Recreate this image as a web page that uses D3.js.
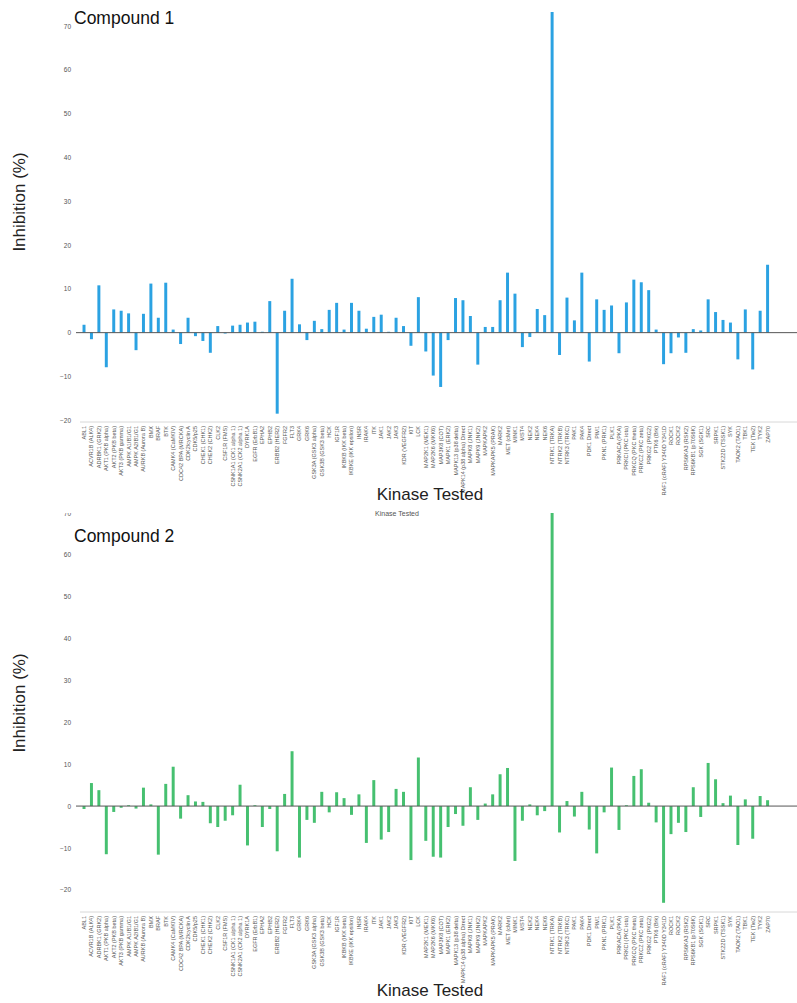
<!DOCTYPE html>
<html><head><meta charset="utf-8">
<script src="https://cdn.jsdelivr.net/npm/d3@7"></script>
<style>body{margin:0;background:#fff;} svg{display:block;font-family:"Liberation Sans",Arial,sans-serif;}</style>
</head><body>
<svg id="chart" width="797" height="1003"></svg>
<script>
const categories = ["ABL1","ACVR1B (ALK4)","ADRBK1 (GRK2)","AKT1 (PKB alpha)","AKT2 (PKB beta)","AKT3 (PKB gamma)","AMPK A1/B1/G1","AMPK A2/B1/G1","AURKB (Aurora B)","BMX","BRAF","BTK","CAMK4 (CaMKIV)","CDC42 BPA (MRCKA)","CDK2/cyclin A","CDK5/p25","CHEK1 (CHK1)","CHEK2 (CHK2)","CLK2","CSF1R (FMS)","CSNK1A1 (CK1 alpha 1)","CSNK2A1 (CK2 alpha 1)","DYRK1A","EGFR (ErbB1)","EPHA2","EPHB2","ERBB2 (HER2)","FGFR2","FLT3","GRK4","GRK6","GSK3A (GSK3 alpha)","GSK3B (GSK3 beta)","HCK","IGF1R","IKBKB (IKK beta)","IKBKE (IKK epsilon)","INSR","IRAK4","ITK","JAK1","JAK2","JAK3","KDR (VEGFR2)","KIT","LCK","MAP2K1 (MEK1)","MAP2K6 (MKK6)","MAP3K8 (COT)","MAPK1 (ERK2)","MAPK13 (p38 delta)","MAPK14 (p38 alpha) Direct","MAPK8 (JNK1)","MAPK9 (JNK2)","MAPKAPK2","MAPKAPK5 (PRAK)","MARK2","MET (cMet)","MINK1","MST4","NEK2","NEK4","NEK6","NTRK1 (TRKA)","NTRK2 (TRKB)","NTRK3 (TRKC)","PAK1","PAK4","PDK1 Direct","PIM1","PKN1 (PRK1)","PLK1","PRKACA (PKA)","PRKCI (PKC iota)","PRKCQ (PKC theta)","PRKCZ (PKC zeta)","PRKG2 (PKG2)","PTK6 (Brk)","RAF1 (cRAF) Y340D Y341D","ROCK1","ROCK2","RPS6KA3 (RSK2)","RPS6KB1 (p70S6K)","SGK (SGK1)","SRC","SRPK1","STK22D (TSSK1)","SYK","TAOK2 (TAO1)","TBK1","TEK (Tie2)","TYK2","ZAP70"];

const compound1 = [1.8,-1.5,10.8,-7.9,5.3,5.0,4.4,-4.0,4.3,11.2,3.4,11.4,0.7,-2.6,3.4,-0.8,-1.9,-4.6,1.5,-0.2,1.6,1.8,2.3,2.5,0.2,7.2,-18.5,5.0,12.3,1.9,-1.7,2.7,0.8,5.2,6.8,0.7,6.8,5.0,0.9,3.6,4.1,0.2,3.4,1.5,-3.0,8.1,-4.3,-9.8,-12.4,-1.7,7.9,7.4,3.8,-7.3,1.3,1.3,7.4,13.7,8.9,-3.3,-1.0,5.4,4.0,73.2,-5.1,8.0,2.8,13.7,-6.6,7.6,5.2,6.2,-4.7,6.9,12.1,11.5,9.7,0.7,-7.2,-4.7,-1.1,-4.6,0.8,0.5,7.6,4.7,2.9,2.3,-6.1,5.3,-8.4,5.0,15.5];

const compound2 = [-0.7,5.5,3.8,-11.5,-1.4,-0.4,0.2,-0.6,4.4,0.4,-11.6,5.3,9.4,-3.0,2.6,1.1,1.0,-4.1,-5.0,-3.5,-2.2,5.1,-9.4,0.2,-5.0,-0.7,-10.8,2.9,13.1,-12.3,-3.3,-4.0,3.4,-1.5,3.3,1.9,-2.1,2.8,-8.8,6.2,-8.0,-6.2,4.1,3.4,-12.9,11.6,-8.3,-12.1,-12.3,-5.0,-1.9,-4.7,4.5,-3.3,0.6,2.8,7.6,9.1,-13.1,-3.5,0.4,-2.2,-1.2,76.0,-6.3,1.2,-2.5,3.4,-5.6,-11.3,-1.5,9.2,-5.7,0.2,7.2,8.8,0.8,-3.9,-23.1,-6.7,-4.0,-6.2,4.5,-2.6,10.3,6.4,0.7,2.5,-9.3,1.6,-7.8,2.4,1.4];

const yTickValues = [70,60,50,40,30,20,10,0,-10,-20];
const titles = ["Compound 1","Compound 2"];
const xAxisTitle = "Kinase Tested";
const yAxisTitle = "Inhibition (%)";

const svg = d3.select("#chart");

const x = d3.scaleBand().domain(categories).range([80.3, 771.3]).paddingInner(0.6).paddingOuter(0.3);

function drawChart(cfg) {
  const { values, color, y, axisY, title, titleY, yTitleY, xTitleY, clipTop } = cfg;
  const root = svg.append("g");
  if (clipTop !== undefined) {
    const id = "clip" + Math.round(clipTop);
    svg.append("defs").append("clipPath").attr("id", id)
      .append("rect").attr("x", 0).attr("y", clipTop).attr("width", 797).attr("height", 1003 - clipTop);
    root.attr("clip-path", `url(#${id})`);
  }
  const ya = root.append("g").attr("transform", "translate(71,0)")
    .call(d3.axisLeft(y).tickValues(yTickValues).tickSize(0).tickPadding(0).tickFormat(d3.format("d")));
  ya.select(".domain").remove();
  ya.selectAll("text").attr("font-size", 6.5).attr("fill", "#555").attr("font-family", "Liberation Sans, Arial, sans-serif");

  root.append("line").attr("x1", 80).attr("x2", 797).attr("y1", axisY).attr("y2", axisY)
    .attr("stroke", "#d8d8d8").attr("stroke-width", 1);
  const xa = root.append("g").attr("transform", `translate(0,${axisY})`)
    .call(d3.axisBottom(x).tickSize(0).tickPadding(0));
  xa.select(".domain").remove();
  xa.selectAll("text")
    .attr("font-size", 5.5).attr("fill", "#555").attr("font-family", "Liberation Sans, Arial, sans-serif")
    .attr("text-anchor", "end").attr("dy", null).attr("y", 0)
    .attr("transform", "translate(2,4) rotate(-90)");

  root.append("g").selectAll("rect").data(values).join("rect")
    .attr("x", (d, i) => x(categories[i]))
    .attr("width", x.bandwidth())
    .attr("y", d => y(Math.max(0, d)))
    .attr("height", d => Math.abs(y(d) - y(0)))
    .attr("fill", color);

  root.append("line").attr("x1", 76).attr("x2", 797).attr("y1", y(0)).attr("y2", y(0))
    .attr("stroke", "#555").attr("stroke-width", 1);

  root.append("text").attr("x", 74).attr("y", titleY).attr("font-size", 17.5).attr("fill", "#111").text(title);
  root.append("text").attr("transform", `translate(25,${yTitleY}) rotate(-90)`).attr("text-anchor", "middle")
    .attr("font-size", 17).attr("fill", "#222").text(yAxisTitle);
  root.append("text").attr("x", 430).attr("y", xTitleY).attr("text-anchor", "middle")
    .attr("font-size", 17).attr("fill", "#222").text(xAxisTitle);
}

const y1 = d3.scaleLinear().domain([-20.4, 74]).range([422, 8.5]);
const y2 = d3.scaleLinear().domain([-25.3, 70]).range([912, 513]);

drawChart({ values: compound1, color: "#2ba2e2", y: y1, axisY: 422, title: titles[0], titleY: 24, yTitleY: 202, xTitleY: 500, });
drawChart({ values: compound2, color: "#46c070", y: y2, axisY: 912, title: titles[1], titleY: 542, yTitleY: 703, xTitleY: 996, clipTop: 513 });

svg.append("text").attr("x", 397).attr("y", 516).attr("text-anchor", "middle")
  .attr("font-size", 7).attr("fill", "#555").text(xAxisTitle);
</script>
</body></html>
